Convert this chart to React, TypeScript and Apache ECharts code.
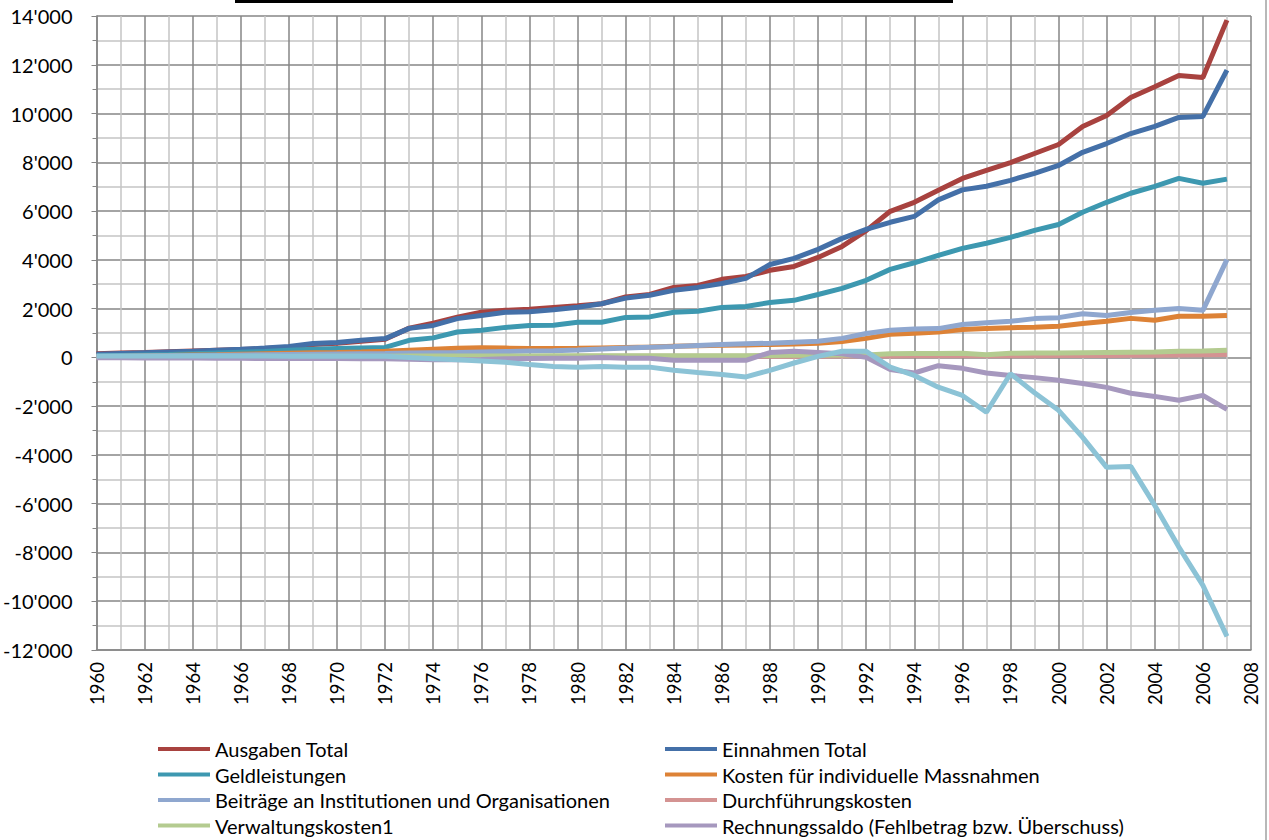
import React, { useEffect, useRef } from "react";
import * as echarts from "echarts";

const years: number[] = [];
for (let y = 1960; y <= 2007; y++) years.push(y);

const ausgabenTotal = [150, 180, 200, 230, 260, 290, 320, 360, 420, 530, 580, 660, 740, 1200, 1400, 1650, 1850, 1930, 1970, 2050, 2120, 2200, 2480, 2580, 2870, 2950, 3200, 3320, 3570, 3730, 4100, 4550, 5200, 5990, 6360, 6850, 7340, 7670, 7990, 8360, 8730, 9470, 9920, 10660, 11100, 11560, 11480, 13830];
const einnahmenTotal = [130, 160, 190, 220, 250, 290, 330, 380, 450, 570, 615, 700, 770, 1190, 1310, 1590, 1720, 1850, 1870, 1950, 2060, 2200, 2430, 2550, 2750, 2870, 3030, 3240, 3810, 4060, 4430, 4880, 5250, 5540, 5780, 6460, 6870, 7020, 7260, 7550, 7870, 8410, 8770, 9180, 9470, 9840, 9880, 11780];
const geldleistungen = [60, 80, 100, 120, 150, 180, 210, 240, 290, 330, 360, 390, 410, 700, 800, 1040, 1110, 1230, 1310, 1320, 1440, 1440, 1640, 1660, 1850, 1890, 2050, 2090, 2250, 2340, 2580, 2830, 3160, 3610, 3880, 4180, 4470, 4680, 4920, 5210, 5450, 5950, 6360, 6730, 7010, 7340, 7140, 7310];
const kostenMassnahmen = [20, 40, 60, 80, 100, 110, 130, 150, 170, 190, 200, 220, 250, 290, 330, 370, 400, 380, 360, 360, 370, 390, 410, 430, 460, 480, 500, 510, 530, 550, 580, 650, 780, 950, 990, 1040, 1140, 1180, 1220, 1240, 1280, 1390, 1480, 1600, 1520, 1690, 1690, 1720];
const beitraege = [40, 50, 60, 70, 80, 90, 100, 110, 120, 130, 140, 150, 160, 180, 190, 200, 220, 240, 260, 270, 300, 340, 380, 420, 450, 490, 530, 560, 580, 620, 660, 780, 980, 1110, 1160, 1180, 1350, 1420, 1480, 1590, 1630, 1790, 1720, 1840, 1930, 2000, 1930, 4010];
const durchfuehrung = [10, 10, 12, 14, 15, 16, 18, 20, 22, 24, 25, 27, 30, 32, 34, 36, 38, 40, 40, 40, 42, 42, 44, 44, 46, 46, 48, 48, 50, 50, 50, 52, 55, 60, 62, 64, 66, 68, 70, 72, 74, 78, 80, 84, 90, 96, 104, 120];
const verwaltungskosten = [20, 22, 25, 28, 30, 32, 35, 38, 40, 42, 45, 48, 50, 52, 55, 57, 60, 60, 60, 62, 62, 64, 64, 65, 65, 66, 66, 66, 80, 85, 90, 95, 100, 150, 155, 160, 165, 110, 170, 175, 180, 190, 200, 210, 220, 250, 260, 290];
const rechnungssaldo = [-20, -20, -25, -30, -30, -35, -40, -50, -50, -50, -50, -60, -60, -80, -100, -100, -90, -60, -50, -40, -40, 0, -40, -40, -120, -120, -120, -120, 200, 250, 200, 150, 0, -500, -640, -340, -450, -640, -740, -830, -940, -1070, -1230, -1470, -1600, -1760, -1560, -2130];
const kapitalkonto = [60, 60, 60, 60, 55, 55, 55, 55, 50, 50, 50, 50, 50, 0, -60, -100, -150, -200, -290, -370, -400, -370, -400, -400, -530, -620, -700, -800, -530, -230, 40, 250, 250, -400, -740, -1220, -1560, -2250, -670, -1450, -2170, -3280, -4510, -4470, -6070, -7780, -9350, -11440];

const seriesDefs = [
  { name: "Ausgaben Total", color: "#A8423F", values: ausgabenTotal },
  { name: "Einnahmen Total", color: "#4470A8", values: einnahmenTotal },
  { name: "Geldleistungen", color: "#3D98B0", values: geldleistungen },
  { name: "Kosten für individuelle Massnahmen", color: "#DD8236", values: kostenMassnahmen },
  { name: "Beiträge an Institutionen und Organisationen", color: "#8FA7CF", values: beitraege },
  { name: "Durchführungskosten", color: "#D49392", values: durchfuehrung },
  { name: "Verwaltungskosten1", color: "#B4CB90", values: verwaltungskosten },
  { name: "Rechnungssaldo (Fehlbetrag bzw. Überschuss)", color: "#A698BE", values: rechnungssaldo },
  { name: "Kapitalkonto", color: "#8CC3D6", values: kapitalkonto },
];

const legendLeft = ["Ausgaben Total", "Geldleistungen", "Beiträge an Institutionen und Organisationen", "Verwaltungskosten1"];
const legendRight = ["Einnahmen Total", "Kosten für individuelle Massnahmen", "Durchführungskosten", "Rechnungssaldo (Fehlbetrag bzw. Überschuss)"];

function fmt(v: number): string {
  if (v === 0) return "0";
  const neg = v < 0;
  const a = Math.abs(v);
  const th = Math.floor(a / 1000);
  const rest = String(a % 1000).padStart(3, "0");
  return (neg ? "-" : "") + th + "'" + rest;
}

const FONT = "Lato";

export default function App() {
  const ref = useRef<HTMLDivElement>(null);
  useEffect(() => {
    if (!ref.current) return;
    const chart = echarts.init(ref.current, null, { renderer: "svg" });
    const legendCommon = {
      orient: "vertical",
      top: 739,
      height: 140,
      padding: 0,
      itemWidth: 52,
      itemHeight: 4,
      itemGap: 5.5,
      icon: "rect",
      selectedMode: false,
      textStyle: { fontFamily: FONT, fontSize: 20, color: "#000", lineHeight: 20 },
    };
    chart.setOption({
      animation: false,
      backgroundColor: "#fff",
      textStyle: { fontFamily: FONT },
      grid: { left: 96, top: 16, right: 18, bottom: 190, containLabel: false },
      legend: [
        { ...legendCommon, left: 158, data: legendLeft },
        { ...legendCommon, left: 665, data: legendRight },
      ],
      graphic: [
        { type: "rect", left: 235, top: 0, shape: { width: 718, height: 3 }, style: { fill: "#000" } },
        { type: "line", shape: { x1: 1266, y1: 0, x2: 1266, y2: 840 }, style: { stroke: "#a0a0a0", lineWidth: 1.5 } },
      ],
      xAxis: {
        type: "value",
        min: 1960,
        max: 2008,
        interval: 2,
        axisLine: { show: true, onZero: false, lineStyle: { color: "#868686", width: 1.5 } },
        axisTick: { show: false },
        axisLabel: {
          rotate: 90,
          margin: 12,
          fontFamily: FONT,
          fontSize: 18.5,
          color: "#000",
          formatter: (v: number) => String(v),
        },
        splitLine: { show: true, lineStyle: { color: "#868686", width: 1.5 } },
        minorTick: { show: false, splitNumber: 2 },
        minorSplitLine: { show: true, lineStyle: { color: "#c4c4c4", width: 1.5 } },
      },
      yAxis: {
        type: "value",
        min: -12000,
        max: 14000,
        interval: 2000,
        axisLine: { show: true, onZero: false, lineStyle: { color: "#868686", width: 1.5 } },
        axisTick: { show: true, length: 5, lineStyle: { color: "#868686" } },
        minorTick: { show: true, splitNumber: 2, length: 4, lineStyle: { color: "#868686" } },
        axisLabel: {
          margin: 24,
          fontFamily: FONT,
          fontSize: 20,
          color: "#000",
          formatter: (v: number) => fmt(v),
        },
        splitLine: { show: true, lineStyle: { color: "#868686", width: 1.5 } },
        minorSplitLine: { show: true, lineStyle: { color: "#c4c4c4", width: 1.5 } },
      },
      series: seriesDefs.map((s) => ({
        name: s.name,
        type: "line",
        data: years.map((y, i) => [y, s.values[i]]),
        showSymbol: false,
        symbol: "none",
        color: s.color,
        itemStyle: { color: s.color },
        lineStyle: { color: s.color, width: 5 },
      })),
    });
    return () => chart.dispose();
  }, []);
  return (
    <div
      ref={ref}
      style={{ position: "fixed", left: 0, top: 0, width: 1269, height: 840, background: "#fff" }}
    />
  );
}
